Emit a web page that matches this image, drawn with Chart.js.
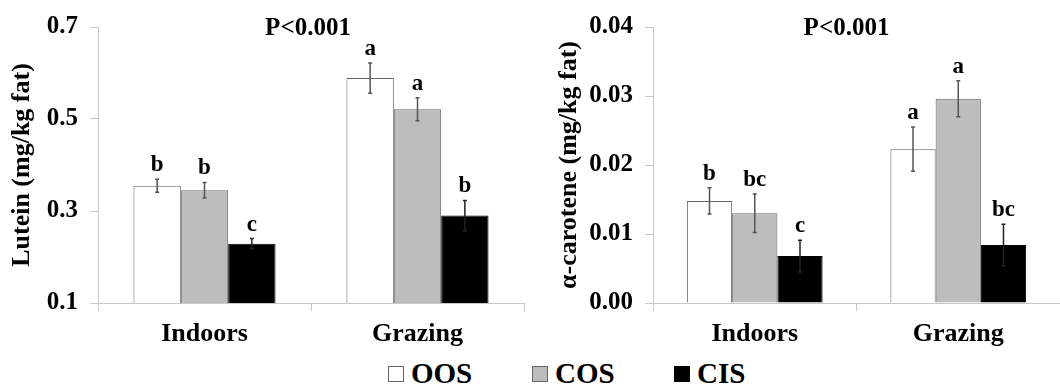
<!DOCTYPE html>
<html>
<head>
<meta charset="utf-8">
<script src="https://cdn.jsdelivr.net/npm/chart.js@4.4.1/dist/chart.umd.min.js"></script>
<style>
  body { margin: 0; background: #fff; }
  #wrap { position: relative; width: 1060px; height: 388px; overflow: hidden; }
  .panel { position: absolute; top: 0; width: 530px; height: 350px; }
  .lg { position: absolute; top: 357px; display: flex; align-items: center;
        font: bold 29px "Liberation Serif", "Times New Roman", serif; color: #000; }
  .lg span.box { display: inline-block; width: 14px; height: 14px; border: 1px solid #666; margin-right: 7px; }
</style>
</head>
<body>
<div id="wrap">
  <div class="panel" style="left:0"><canvas id="lutein" width="530" height="350"></canvas></div>
  <div class="panel" style="left:530px"><canvas id="carotene" width="530" height="350"></canvas></div>
  <div class="lg" style="left:388px"><span class="box" style="background:#fff"></span>OOS</div>
  <div class="lg" style="left:532px"><span class="box" style="background:#bdbdbd"></span>COS</div>
  <div class="lg" style="left:674px"><span class="box" style="background:#000;border-color:#000"></span>CIS</div>
</div>
<script>
const categories = ['Indoors', 'Grazing'];
const seriesNames = ['OOS', 'COS', 'CIS'];
const seriesColors = ['#ffffff', '#bdbdbd', '#000000'];

// lutein, mg/kg fat
const luteinOOS = [0.355, 0.589];
const luteinCOS = [0.345, 0.521];
const luteinCIS = [0.229, 0.290];
const luteinErrOOS = [0.014, 0.033];
const luteinErrCOS = [0.017, 0.025];
const luteinErrCIS = [0.011, 0.033];
const luteinLetters = [['b', 'a'], ['b', 'a'], ['c', 'b']];

// alpha-carotene, mg/kg fat
const caroteneOOS = [0.0148, 0.0223];
const caroteneCOS = [0.0130, 0.0296];
const caroteneCIS = [0.0068, 0.0084];
const caroteneErrOOS = [0.0019, 0.0032];
const caroteneErrCOS = [0.0028, 0.0026];
const caroteneErrCIS = [0.0023, 0.0030];
const caroteneLetters = [['b', 'a'], ['bc', 'a'], ['c', 'bc']];

const serif = '"Liberation Serif", "Times New Roman", serif';

// error bars, significance letters and the P value
const annotate = {
  id: 'annotate',
  afterDatasetsDraw(chart, args, opts) {
    const ctx = chart.ctx;
    const y = chart.scales.y;
    ctx.save();
    chart.data.datasets.forEach((ds, i) => {
      const meta = chart.getDatasetMeta(i);
      meta.data.forEach((bar, j) => {
        const v = ds.data[j], e = opts.errors[i][j];
        const top = y.getPixelForValue(v + e);
        const bot = y.getPixelForValue(v - e);
        ctx.strokeStyle = i === 2 ? '#222' : '#555';
        ctx.lineWidth = 1.5;
        ctx.beginPath();
        ctx.moveTo(bar.x, top); ctx.lineTo(bar.x, bot);
        ctx.moveTo(bar.x - 2, top); ctx.lineTo(bar.x + 2, top);
        ctx.moveTo(bar.x - 2, bot); ctx.lineTo(bar.x + 2, bot);
        ctx.stroke();
        ctx.fillStyle = '#000';
        ctx.font = 'bold 23px ' + serif;
        ctx.textAlign = 'center';
        ctx.textBaseline = 'alphabetic';
        ctx.fillText(opts.letters[i][j], bar.x, top - 8);
      });
    });
    const a = chart.chartArea;
    ctx.font = 'bold 25px ' + serif;
    ctx.textAlign = 'center';
    ctx.textBaseline = 'middle';
    ctx.fillText('P<0.001', (a.left + a.right) / 2 + opts.pShift, a.top + 2);
    ctx.restore();
  }
};

function makeChart(id, values, errors, letters, yTitle, yMin, yMax, step, dec, axisLeft, titlePad, padRight, pShift) {
  return new Chart(document.getElementById(id), {
    type: 'bar',
    data: {
      labels: categories,
      datasets: values.map((d, i) => ({
        label: seriesNames[i],
        data: d,
        backgroundColor: seriesColors[i],
        borderColor: i === 2 ? '#000' : '#666',
        borderWidth: 1,
        categoryPercentage: 0.667,
        barPercentage: 1
      }))
    },
    options: {
      responsive: false,
      animation: false,
      devicePixelRatio: 1,
      layout: { padding: { top: 23, right: padRight, left: 0, bottom: 0 } },
      plugins: {
        legend: { display: false },
        tooltip: { enabled: false },
        annotate: { errors: errors, letters: letters, pShift: pShift }
      },
      scales: {
        x: {
          grid: { drawOnChartArea: false, color: '#c8c8c8', tickLength: 8, offset: true },
          border: { color: '#c8c8c8' },
          ticks: { color: '#000', font: { family: serif, size: 26, weight: 'bold' }, padding: 8 },
          afterFit: s => { s.height = 47; }
        },
        y: {
          min: yMin, max: yMax,
          grid: { drawOnChartArea: false, color: '#c8c8c8', tickLength: 8 },
          border: { color: '#c8c8c8' },
          ticks: {
            stepSize: step, color: '#000', padding: 12,
            font: { family: serif, size: 25, weight: 'bold' },
            callback: v => v.toFixed(dec)
          },
          title: {
            display: true, text: yTitle, color: '#000',
            font: { family: serif, size: 26, weight: 'bold' },
            padding: { top: titlePad, bottom: 0 }
          },
          afterFit: s => { s.width = axisLeft; }
        }
      }
    },
    plugins: [annotate]
  });
}

makeChart('lutein', [luteinOOS, luteinCOS, luteinCIS],
  [luteinErrOOS, luteinErrCOS, luteinErrCIS], luteinLetters,
  'Lutein (mg/kg fat)', 0.1, 0.7, 0.2, 1, 98, 7, 6, -3);

makeChart('carotene', [caroteneOOS, caroteneCOS, caroteneCIS],
  [caroteneErrOOS, caroteneErrCOS, caroteneErrCIS], caroteneLetters,
  'α-carotene (mg/kg fat)', 0, 0.04, 0.01, 2, 123, 24, 0, -10);
</script>
</body>
</html>
